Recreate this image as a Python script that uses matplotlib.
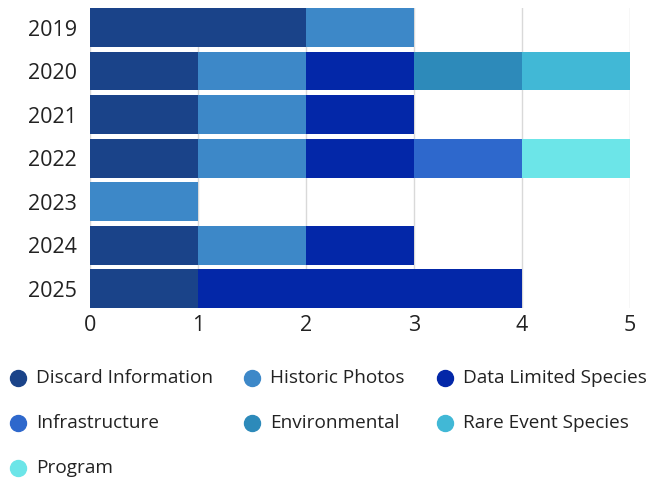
import numpy as np
import matplotlib.pyplot as plt
from matplotlib.lines import Line2D

plt.rcParams['font.family'] = ['Open Sans', 'DejaVu Sans']

YEARS = ['2019', '2020', '2021', '2022', '2023', '2024', '2025']

CATEGORIES = ['Discard Information', 'Historic Photos', 'Data Limited Species',
              'Infrastructure', 'Environmental', 'Rare Event Species', 'Program']
COLORS = ['#1a4389', '#3d88c8', '#0327a8', '#2e68cc', '#2d8aba', '#41b8d6', '#6ce5e8']

discard        = [2, 1, 1, 1, 0, 1, 1]
historic       = [1, 1, 1, 1, 1, 1, 0]
data_limited   = [0, 1, 1, 1, 0, 1, 3]
infrastructure = [0, 0, 0, 1, 0, 0, 0]
environmental  = [0, 1, 0, 0, 0, 0, 0]
rare_event     = [0, 1, 0, 0, 0, 0, 0]
program        = [0, 0, 0, 1, 0, 0, 0]

SERIES = [discard, historic, data_limited, infrastructure, environmental, rare_event, program]

fig = plt.figure(figsize=(6.5, 4.83), dpi=100)
ax = fig.add_axes([0.138, 0.362, 0.831, 0.621])

y = np.arange(len(YEARS))
left = np.zeros(len(YEARS))
for vals, col in zip(SERIES, COLORS):
    vals = np.array(vals, dtype=float)
    ax.barh(y, vals, left=left, height=0.89, color=col, edgecolor='none', zorder=2)
    left += vals

ax.set_ylim(len(YEARS) - 0.555, -0.445)
ax.set_xlim(0, 5)
ax.set_xticks(range(6))
ax.set_yticks(y)
ax.set_yticklabels(YEARS)
ax.tick_params(length=0, labelsize=15.5, colors='#222222')
ax.tick_params(axis='x', pad=5)
ax.tick_params(axis='y', pad=9)
ax.grid(axis='x', color='#d9d9d9', linewidth=1, zorder=0)
for s in ax.spines.values():
    s.set_visible(False)

# legend laid out by hand, three columns
col_x = [0.028, 0.388, 0.685]
row_y = [0.217, 0.124, 0.031]
for i, (name, col) in enumerate(zip(CATEGORIES, COLORS)):
    r, c = divmod(i, 3)
    fig.add_artist(Line2D([col_x[c]], [row_y[r]], marker='o', markersize=11.5,
                          color=col, linestyle='none', transform=fig.transFigure))
    fig.text(col_x[c] + 0.027, row_y[r], name, fontsize=13.7, color='#222222',
             va='center', ha='left')

fig.savefig('out.png', dpi=100)
